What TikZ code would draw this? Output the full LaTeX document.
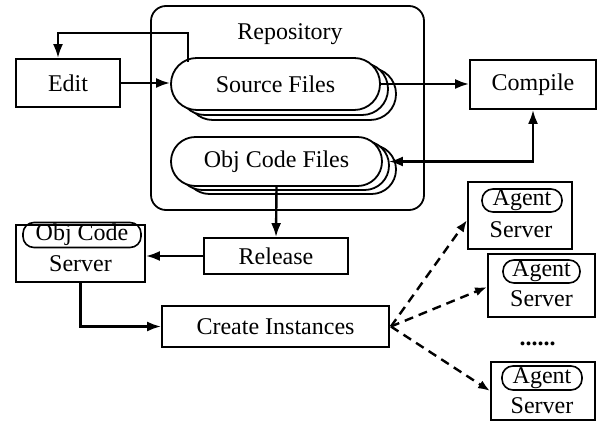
\documentclass[tikz,border=0pt]{standalone}
\usepackage{fontspec}
\setmainfont{Liberation Serif}
\usetikzlibrary{arrows.meta,calc}
\begin{document}
\begin{tikzpicture}[x=0.5pt,y=-0.5pt,
  every node/.style={font=\fontsize{12}{14}\selectfont},
  box/.style={draw,line width=0.9pt,inner sep=0pt,fill=white},
  stack/.style={draw,line width=0.9pt,fill=white,inner sep=0pt},
  pill/.style={draw,line width=0.8pt,rounded corners=5.5pt,inner sep=0pt},
  arr/.style={line width=1.2pt,-{Latex[length=7pt,width=5pt]}},
  dblarr/.style={line width=1.2pt,{Latex[length=7pt,width=5pt]}-{Latex[length=7pt,width=5pt]}},
  dasharr/.style={line width=1.2pt,-{Latex[length=6pt,width=4.5pt]},dash pattern=on 4.5pt off 3pt}]
\useasboundingbox (0,0) rectangle (597,421);

% Repository
\node[draw,line width=0.9pt,rounded corners=7.5pt,minimum width=136.5pt,minimum height=102pt] (repo) at (287.5,108) {};
\node (repolbl) at (290,34) {Repository};

% Source Files stack
\node[stack,rounded corners=12.9pt,minimum width=104.5pt,minimum height=26pt] (sf3) at (291.5,94) {};
\node[stack,rounded corners=12.9pt,minimum width=104.5pt,minimum height=26pt] (sf2) at (283.5,89) {};
\node[stack,rounded corners=12.9pt,minimum width=104.5pt,minimum height=26pt] (sf) at (275.5,84) {Source Files};

% Obj Code Files stack
\node[stack,rounded corners=12.2pt,minimum width=105.5pt,minimum height=24.5pt] (ob3) at (290.5,169.5) {};
\node[stack,rounded corners=12.2pt,minimum width=105.5pt,minimum height=24.5pt] (ob2) at (283.5,165.5) {};
\node[stack,rounded corners=12.2pt,minimum width=105.5pt,minimum height=24.5pt] (ob) at (276.5,161.5) {Obj Code Files};

% Boxes
\node[box,minimum width=52pt,minimum height=24pt] (edit) at (68,83) {Edit};
\node[box,minimum width=63pt,minimum height=24.5pt] (compile) at (533,84.5) {Compile};
\node[box,minimum width=72pt,minimum height=18pt] (release) at (276,256) {Release};
\node[box,minimum width=64.5pt,minimum height=28.5pt] (ocs) at (80.5,253.5) {};
\node[pill,minimum width=59pt,minimum height=12.5pt] (ocsp) at (82,235) {Obj Code};
\node (ocst) at (80.5,264) {Server};
\node[box,minimum width=113.5pt,minimum height=20.5pt] (ci) at (275.5,326.5) {Create Instances};

% Agent servers
\node[box,minimum width=52pt,minimum height=33.5pt] (a1) at (520,215.5) {};
\node[pill,minimum width=40pt,minimum height=11.5pt] (a1p) at (522,200.5) {Agent};
\node (a1t) at (521,230) {Server};

\node[box,minimum width=53.5pt,minimum height=31.5pt] (a2) at (541.5,285.5) {};
\node[pill,minimum width=38.5pt,minimum height=11.5pt] (a2p) at (541.5,271.5) {Agent};
\node (a2t) at (541.5,299) {Server};

\node[box,minimum width=52pt,minimum height=29pt] (a3) at (543,391) {};
\node[pill,minimum width=40pt,minimum height=12pt] (a3p) at (542,378) {Agent};
\node (a3t) at (542,406) {Server};

\node (dots) at (537.5,344) {\textbf{......}};

% Connectors
\draw[arr] (edit.east) -- (edit.east -| sf.west);
\coordinate (up) at (188,33);
\draw[arr] ($(up |- sf.north)+(0,5)$) -- (up) -| ($(edit.north)+(-10,0)$);
\draw[arr] (sf.east) -- (sf.east -| compile.west);
\draw[dblarr] (compile.south) |- ($(ob.east)+(6,0)$);
\draw[arr] (ob.south) -- (release.north);
\draw[arr] (release.west) -- (release.west -| ocs.east);
\draw[arr] (ocs.south) |- (ci.west);
\coordinate (fan) at ($(ci.east)+(1,0)$);
\draw[dasharr] (fan) -- ($(a1.west)+(0,4.5)$);
\draw[dasharr] (fan) -- ($(a2.west)+(0,1.5)$);
\draw[dasharr] (fan) -- (a3.west);
\end{tikzpicture}
\end{document}
